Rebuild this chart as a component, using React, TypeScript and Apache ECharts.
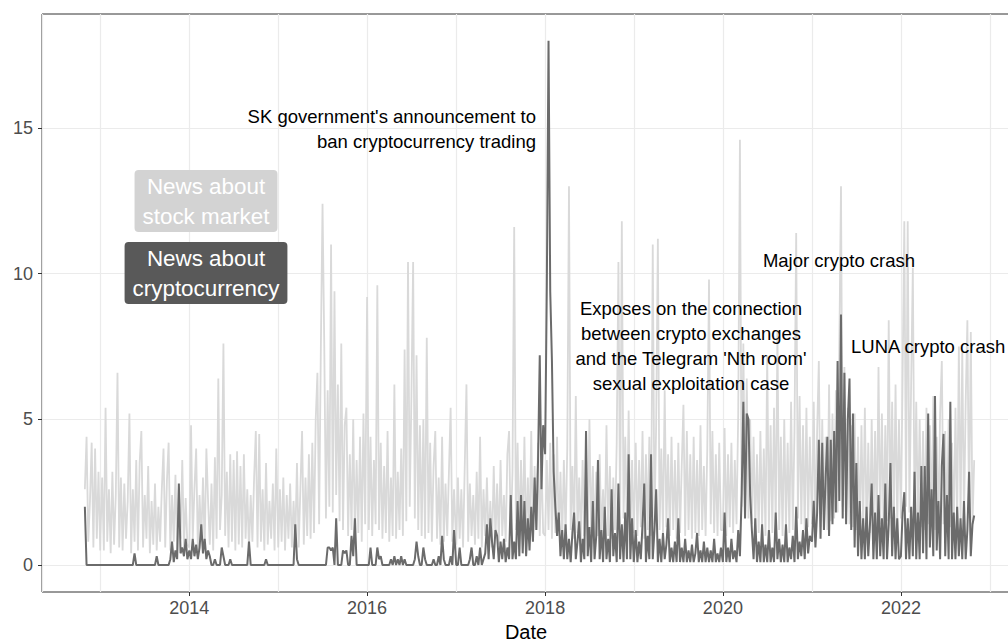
import React, { useEffect, useRef } from "react";
import * as echarts from "echarts";

// ---- Weekly index values (news volume) ----
// News about stock market
const stock2012 = [2.6, 4.4, 0.8, 2.2, 4.2, 0.6, 4.0, 0.9, 3.2, 0.5];
const stock2013 = [
  1.0, 3.0, 0.5, 5.4, 0.8, 2.6, 0.4, 3.2, 0.7, 2.4,
  6.6, 0.6, 3.0, 0.5, 2.8, 0.9, 2.2, 5.2, 0.4, 2.6,
  0.8, 3.6, 0.5, 3.5, 4.6, 0.6, 2.4, 0.9, 3.4, 0.4,
  2.2, 0.7, 2.8, 0.5, 2.0, 0.8, 2.6, 4.0, 0.6, 2.9,
  4.2, 0.5, 2.4, 0.8, 3.1, 0.4, 2.6, 0.9, 3.6, 0.6,
  2.3, 0.7];
const stock2014 = [
  0.6, 4.8, 0.9, 2.6, 4.0, 0.5, 2.4, 0.8, 3.0, 0.6,
  4.0, 2.2, 0.7, 2.8, 0.5, 3.7, 0.9, 6.4, 1.2, 2.4,
  7.6, 1.0, 3.2, 0.6, 3.8, 0.8, 3.6, 0.5, 3.9, 0.7,
  3.4, 0.6, 3.8, 0.9, 2.6, 0.5, 2.4, 0.8, 3.0, 4.6,
  0.6, 4.5, 0.8, 2.6, 0.5, 3.5, 0.7, 2.2, 0.9, 2.8,
  0.5, 4.0];
const stock2015 = [
  0.6, 2.6, 0.8, 3.0, 0.5, 2.4, 0.9, 2.8, 0.6, 2.2,
  0.8, 3.5, 0.6, 2.6, 4.6, 0.7, 3.0, 1.0, 3.8, 0.9,
  4.2, 1.1, 5.0, 6.6, 1.4, 7.4, 12.4, 7.6, 1.6, 6.0,
  2.0, 11.0, 1.8, 9.4, 2.4, 6.2, 1.5, 7.6, 1.2, 4.8,
  5.4, 1.0, 3.8, 1.2, 5.0, 0.9, 3.6, 1.1, 4.4, 0.8,
  5.2, 1.4];
const stock2016 = [
  9.2, 1.2, 4.4, 1.0, 3.6, 1.4, 9.6, 1.2, 4.2, 0.9,
  3.4, 1.1, 4.6, 0.8, 3.0, 1.0, 6.2, 0.9, 3.2, 1.2,
  4.0, 1.0, 7.4, 1.5, 10.4, 2.0, 5.8, 10.4, 1.6, 7.2,
  1.2, 4.8, 1.0, 5.0, 0.9, 7.8, 1.1, 4.2, 0.8, 3.4,
  4.6, 0.9, 3.0, 0.7, 4.4, 0.8, 2.8, 1.0, 3.2, 5.4,
  0.8, 2.6];
const stock2017 = [
  0.7, 3.0, 0.9, 2.6, 0.6, 3.4, 6.2, 0.8, 2.8, 1.0,
  2.4, 0.7, 3.2, 0.9, 4.4, 0.6, 2.6, 1.0, 3.0, 0.8,
  2.2, 0.6, 3.4, 0.9, 2.8, 0.7, 3.6, 1.0, 2.4, 0.8,
  3.8, 4.6, 1.0, 3.2, 11.6, 1.2, 4.2, 0.9, 3.6, 1.1,
  4.4, 0.8, 3.0, 1.0, 4.6, 0.9, 3.4, 1.2, 4.2, 1.0,
  3.6, 1.1];
const stock2018 = [
  1.0, 3.6, 1.2, 4.2, 0.9, 3.8, 1.1, 4.4, 1.0, 3.2,
  0.8, 3.6, 1.0, 4.0, 13.0, 1.2, 3.4, 0.9, 5.8, 1.1,
  3.0, 0.8, 3.6, 1.0, 2.8, 0.9, 5.0, 1.1, 3.4, 0.8,
  3.2, 1.0, 3.8, 0.9, 2.6, 1.1, 4.8, 1.0, 3.4, 0.9,
  3.0, 1.2, 4.2, 10.4, 1.4, 11.8, 1.6, 4.4, 1.2, 5.3,
  1.0, 3.6, 1.1];
const stock2019 = [
  1.1, 4.2, 1.0, 3.6, 1.3, 4.6, 0.9, 3.8, 1.2, 4.4,
  1.0, 11.0, 1.4, 4.8, 11.2, 1.2, 4.0, 1.1, 6.0, 1.3,
  3.8, 1.0, 4.4, 1.2, 3.6, 0.9, 4.2, 1.1, 3.4, 5.5,
  1.0, 4.6, 1.2, 3.8, 0.9, 4.4, 1.1, 3.6, 1.0, 4.8,
  1.2, 3.4, 1.0, 4.0, 9.8, 1.4, 4.6, 1.1, 3.8, 1.0,
  4.2, 1.2];
const stock2020 = [
  1.2, 4.7, 1.0, 3.8, 1.3, 4.2, 1.1, 3.6, 1.4, 5.2,
  14.6, 2.0, 7.6, 1.8, 6.4, 1.6, 5.0, 1.4, 4.4, 1.2,
  3.8, 1.1, 4.6, 1.3, 4.0, 1.0, 7.2, 1.2, 4.8, 1.1,
  5.4, 1.3, 8.0, 1.2, 4.4, 1.0, 5.0, 1.3, 4.2, 1.1,
  5.6, 1.2, 4.6, 11.4, 1.6, 5.8, 1.4, 4.8, 1.2, 5.4,
  1.3, 4.4];
const stock2021 = [
  1.4, 5.6, 1.2, 4.6, 7.0, 1.3, 5.0, 1.4, 4.4, 1.2,
  6.2, 1.5, 5.2, 1.6, 6.0, 1.8, 7.4, 13.0, 2.0, 6.8,
  1.6, 5.4, 1.4, 4.8, 1.3, 5.2, 1.2, 4.4, 1.1, 4.8,
  1.3, 5.4, 1.2, 4.2, 1.1, 5.0, 1.3, 4.6, 1.2, 6.8,
  1.4, 5.2, 1.3, 4.8, 1.5, 8.4, 1.6, 5.6, 1.4, 6.2,
  1.3, 5.0];
const stock2022 = [
  1.6, 6.4, 11.8, 2.0, 11.8, 1.8, 6.2, 10.2, 1.6, 5.6,
  1.4, 5.0, 1.3, 4.6, 1.2, 5.4, 1.4, 4.8, 1.3, 5.8,
  1.2, 4.4, 1.3, 5.2, 7.0, 1.4, 4.6, 1.2, 5.0, 1.3,
  4.2, 1.2, 5.4, 1.4, 7.5, 1.6, 7.4, 1.5, 5.6, 8.4,
  1.6, 8.0, 1.4, 3.6];

// News about cryptocurrency
const crypto2012 = [2.0, 0, 0, 0, 0, 0, 0, 0, 0, 0];
const crypto2013 = [
  0, 0, 0, 0, 0, 0, 0, 0, 0, 0,
  0, 0, 0, 0, 0, 0, 0, 0, 0, 0,
  0.4, 0, 0, 0, 0, 0, 0, 0, 0, 0,
  0, 0, 0, 0.3, 0, 0, 0, 0, 0, 0,
  0, 0.2, 0.8, 0.1, 0.5, 0.2, 2.8, 0.4, 0.6, 0.3,
  0.9, 0.2];
const crypto2014 = [
  0.5, 0.2, 0.9, 0.3, 0.7, 0.2, 0.6, 1.4, 0.4, 0.9,
  0.2, 0.5, 0.3, 0, 0, 0.2, 0, 0, 0, 0.6,
  0.3, 0, 0, 0, 0.2, 0, 0, 0, 0, 0,
  0, 0, 0, 0, 0, 0.8, 0, 0, 0, 0,
  0, 0, 0, 0, 0, 0.2, 0, 0, 0, 0,
  0, 0];
const crypto2015 = [
  0, 0, 0, 0, 0, 0, 0, 0, 0, 0,
  1.4, 0.2, 0, 0, 0, 0, 0, 0, 0, 0,
  0, 0, 0, 0, 0, 0, 0, 0, 0, 0.6,
  0.6, 0.5, 0.6, 0, 1.6, 0, 0, 0, 0.5, 0.4,
  0.5, 0, 0, 1.0, 0.3, 1.6, 0, 0, 0, 0,
  0, 0];
const crypto2016 = [
  0, 0, 0.6, 0, 0, 0, 0.6, 0.2, 0.3, 0,
  0, 0, 0, 0, 0.2, 0, 0.3, 0, 0.2, 0,
  0.3, 0, 0.2, 0, 0, 0, 0, 0, 0.2, 0.8,
  0.3, 0, 0, 0.6, 0.2, 0, 0, 0, 0, 0.2,
  0, 0, 0.3, 0, 1.0, 0.2, 0, 0, 0, 0.3,
  0, 1.2];
const crypto2017 = [
  0, 0, 0.6, 0, 0, 0, 0, 0, 0.2, 0.6,
  0, 0, 0.3, 0, 0.6, 0, 0.2, 0.4, 1.4, 0.2,
  1.6, 0.8, 0.2, 1.2, 1.0, 0.1, 0.8, 0.2, 0.9, 0.1,
  0.6, 0.2, 2.4, 0.2, 0.8, 0.2, 2.2, 0.3, 2.4, 0.4,
  2.2, 0.3, 1.6, 0.5, 2.0, 0.8, 3.0, 1.2, 3.6, 7.2,
  2.6, 4.8];
const crypto2018 = [
  3.8, 9.6, 18.0, 9.4, 7.0, 3.2, 2.0, 1.0, 1.8, 0.3,
  1.2, 0.2, 1.4, 0.2, 0.9, 0.1, 1.1, 1.8, 0.2, 0.8,
  1.5, 0.1, 0.9, 0.2, 4.6, 0.3, 1.3, 0.1, 2.2, 0.2,
  1.0, 3.6, 0.2, 1.2, 0.1, 2.0, 0.2, 0.9, 0.1, 2.6,
  0.3, 1.1, 0.1, 2.8, 0.2, 1.4, 0.1, 1.8, 0.2, 3.8,
  0.2, 1.6, 0.1];
const crypto2019 = [
  0.2, 1.2, 0.1, 0.8, 0.2, 1.4, 2.8, 0.1, 1.0, 0.2,
  3.8, 0.2, 1.2, 2.6, 0.1, 0.9, 0.1, 1.1, 0.2, 0.7,
  1.6, 0.1, 0.6, 0.1, 0.8, 0.1, 1.6, 0.1, 0.6, 0.1,
  0.9, 0.1, 0.5, 0.1, 0.7, 0.1, 0.4, 1.1, 0.1, 0.5,
  0.1, 0.8, 0.1, 0.6, 0.1, 0.5, 0.1, 0.9, 0.1, 0.4,
  0.1, 0.6];
const crypto2020 = [
  0.1, 1.8, 0.1, 0.6, 0.1, 0.9, 0.2, 0.5, 0.1, 1.2,
  0.3, 2.4, 5.6, 1.6, 5.2, 5.0, 2.4, 1.2, 0.2, 1.6,
  0.1, 0.8, 0.1, 1.4, 0.1, 0.7, 0.1, 1.2, 0.1, 0.6,
  0.1, 1.8, 0.2, 0.9, 0.1, 0.7, 0.1, 1.4, 0.1, 0.6,
  0.2, 1.0, 0.1, 2.0, 0.2, 0.8, 0.3, 1.2, 0.2, 1.6,
  0.4, 1.0];
const crypto2021 = [
  0.8, 2.2, 0.6, 1.8, 4.3, 0.9, 4.2, 1.2, 3.0, 4.4,
  1.0, 4.3, 1.4, 4.6, 1.8, 7.0, 2.2, 8.6, 1.6, 6.6,
  1.4, 5.0, 6.4, 1.2, 5.2, 0.6, 3.5, 0.3, 2.2, 0.2,
  1.6, 0.2, 2.0, 0.3, 1.4, 2.8, 0.2, 1.8, 0.2, 2.4,
  0.3, 1.6, 0.2, 2.8, 0.2, 1.4, 3.5, 0.3, 2.0, 0.2,
  1.6, 0.2];
const crypto2022 = [
  0.3, 1.8, 2.5, 0.2, 1.6, 0.2, 2.0, 0.3, 3.2, 0.2,
  1.8, 0.2, 3.4, 0.4, 3.4, 0.2, 5.2, 0.6, 2.6, 0.3,
  5.8, 0.5, 2.2, 0.2, 3.4, 4.5, 0.3, 2.4, 0.2, 5.6,
  0.2, 1.8, 0.2, 2.0, 0.3, 1.6, 0.2, 2.2, 0.2, 1.2,
  3.2, 0.3, 1.4, 1.7];

const years = [2012, 2013, 2014, 2015, 2016, 2017, 2018, 2019, 2020, 2021, 2022];
const stockByYear = [stock2012, stock2013, stock2014, stock2015, stock2016, stock2017, stock2018, stock2019, stock2020, stock2021, stock2022];
const cryptoByYear = [crypto2012, crypto2013, crypto2014, crypto2015, crypto2016, crypto2017, crypto2018, crypto2019, crypto2020, crypto2021, crypto2022];

const labelYears = [2014, 2016, 2018, 2020, 2022];
const yTicks = [0, 5, 10, 15];

const DAY = 86400000;
function yearStart(y: number) {
  return y === 2012 ? Date.UTC(2012, 9, 29) : Date.UTC(y, 0, 1);
}
function buildSeries(byYear: number[][]) {
  const out: [number, number][] = [];
  years.forEach((y, k) => {
    const s = yearStart(y);
    byYear[k].forEach((v, i) => out.push([s + i * 7 * DAY, v]));
  });
  return out;
}

const X_MIN = Date.UTC(2012, 4, 6);
const X_MAX = Date.UTC(2023, 2, 25);
const FONT = "'Liberation Sans', Arial, Helvetica, sans-serif";

export default function App() {
  const ref = useRef<HTMLDivElement>(null);
  useEffect(() => {
    document.body.style.margin = "0";
    if (!ref.current) return;
    const chart = echarts.init(ref.current, undefined, { renderer: "svg" });
    const option: any = {
      animation: false,
      useUTC: true,
      backgroundColor: "#ffffff",
      textStyle: { fontFamily: FONT },
      grid: {
        left: 42, top: 14, right: -2, bottom: 50,
        show: true, borderColor: "#333333", borderWidth: 1,
        containLabel: false,
        outerBoundsMode: "none",
      },
      xAxis: [
        {
          // yearly grid lines
          type: "time",
          min: X_MIN,
          max: X_MAX,
          splitNumber: 11,
          position: "bottom",
          axisLine: { show: false },
          axisTick: { show: false },
          axisLabel: { show: false },
          splitLine: { show: true, lineStyle: { color: "#ebebeb", width: 1.2 } },
        },
        {
          // ticks & labels at even years
          type: "value",
          min: X_MIN,
          max: X_MAX,
          position: "bottom",
          axisLine: { show: false },
          splitLine: { show: false },
          axisTick: {
            show: true, length: 4,
            customValues: labelYears.map((y) => Date.UTC(y, 0, 1)),
            lineStyle: { color: "#333333", width: 1 },
          },
          axisLabel: {
            customValues: labelYears.map((y) => Date.UTC(y, 0, 1)),
            formatter: (v: number) => String(new Date(v).getUTCFullYear()),
            fontSize: 18, color: "#4d4d4d", margin: 7, fontFamily: FONT,
          },
          name: "Date",
          nameLocation: "middle",
          nameGap: 25,
          nameTextStyle: { fontSize: 20, color: "#000000", fontFamily: FONT },
        },
      ],
      yAxis: {
        type: "value",
        min: -0.927,
        max: 18.915,
        splitNumber: 4,
        axisLine: { show: false },
        axisTick: {
          show: true, length: 4, customValues: yTicks,
          lineStyle: { color: "#333333", width: 1 },
        },
        axisLabel: {
          customValues: yTicks,
          fontSize: 18, color: "#4d4d4d", margin: 9, fontFamily: FONT,
        },
        splitLine: { show: true, lineStyle: { color: "#ebebeb", width: 1.2 } },
      },
      series: [
        {
          name: "News about stock market",
          type: "line",
          xAxisIndex: 0,
          data: buildSeries(stockByYear),
          showSymbol: false,
          symbol: "none",
          lineStyle: { color: "#d9d9d9", width: 1.8 },
          z: 2,
        },
        {
          name: "News about cryptocurrency",
          type: "line",
          xAxisIndex: 0,
          data: buildSeries(cryptoByYear),
          showSymbol: false,
          symbol: "none",
          lineStyle: { color: "#6b6b6b", width: 2 },
          z: 3,
        },
      ],
      graphic: [
        {
          type: "text", x: 206, y: 170, z: 10,
          style: {
            text: "News about\nstock market", align: "center", verticalAlign: "top",
            fill: "#ffffff", fontSize: 22.4, fontFamily: FONT, lineHeight: 30,
            backgroundColor: "#d3d3d3", borderRadius: 4, padding: [1, 8, 1, 8],
          },
        },
        {
          type: "text", x: 206, y: 242, z: 10,
          style: {
            text: "News about\ncryptocurrency", align: "center", verticalAlign: "top",
            fill: "#ffffff", fontSize: 22.4, fontFamily: FONT, lineHeight: 30,
            backgroundColor: "#595959", borderRadius: 4, padding: [1, 8, 1, 8],
          },
        },
        {
          type: "text", x: 536, y: 104, z: 10,
          style: {
            text: "SK government's announcement to\nban cryptocurrency trading",
            align: "right", verticalAlign: "top", fill: "#000000",
            fontSize: 18.5, fontFamily: FONT, lineHeight: 25,
          },
        },
        {
          type: "text", x: 691, y: 295.5, z: 10,
          style: {
            text: "Exposes on the connection\nbetween crypto exchanges\nand the Telegram 'Nth room'\nsexual exploitation case",
            align: "center", verticalAlign: "top", fill: "#000000",
            fontSize: 18.5, fontFamily: FONT, lineHeight: 25,
          },
        },
        {
          type: "text", x: 839, y: 260, z: 10,
          style: {
            text: "Major crypto crash", align: "center", verticalAlign: "middle",
            fill: "#000000", fontSize: 18.5, fontFamily: FONT,
          },
        },
        {
          type: "text", x: 851, y: 346, z: 10,
          style: {
            text: "LUNA crypto crash", align: "left", verticalAlign: "middle",
            fill: "#000000", fontSize: 18.5, fontFamily: FONT,
          },
        },
      ],
    };
    chart.setOption(option);
    return () => chart.dispose();
  }, []);
  return <div ref={ref} style={{ width: 1008, height: 642 }} />;
}
